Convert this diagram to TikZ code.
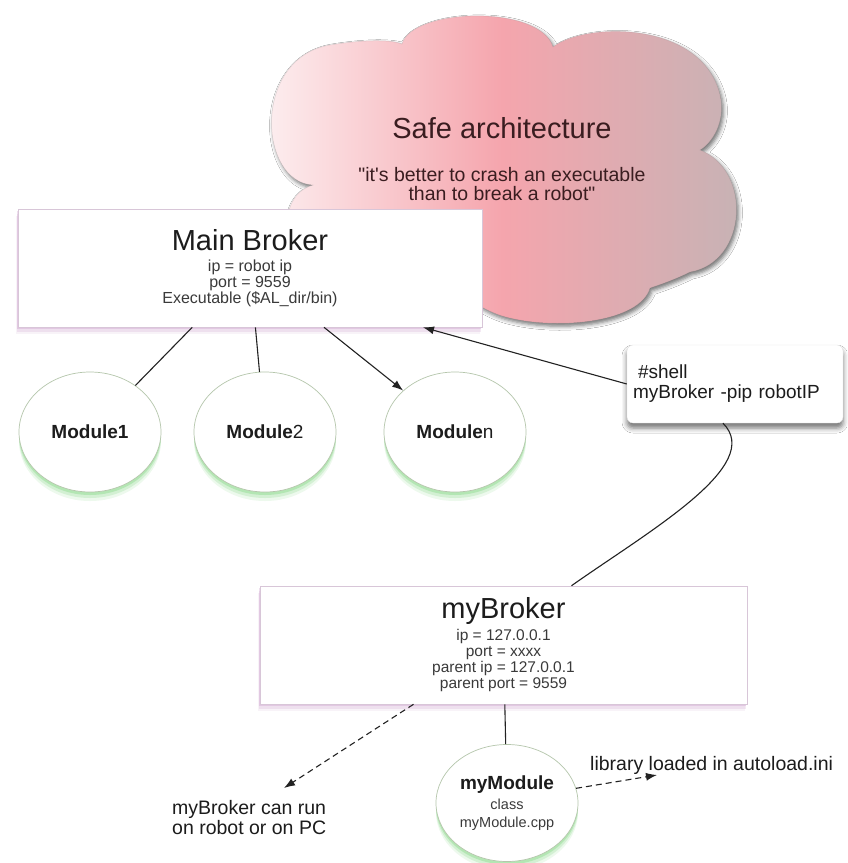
\documentclass[tikz,border=0pt]{standalone}
\usepackage{fontspec}
\setmainfont{Liberation Sans}
% same face without the TeX quote mapping, so " and ' stay straight
\newfontfamily\plainsans{Liberation Sans}
\usetikzlibrary{shapes.geometric,shadows,shadows.blur,arrows.meta,calc}

\definecolor{inkdark}{HTML}{1C1C1C}
\definecolor{inkgrey}{HTML}{3A3A3A}
\definecolor{cloudleft}{HTML}{FDF2F3}
\definecolor{cloudmid}{HTML}{F5A5AD}
\definecolor{cloudright}{HTML}{C5B3B5}
\definecolor{cloudink}{HTML}{3A1D20}
\definecolor{boxedge}{HTML}{D8C6D8}
\definecolor{boxglow}{HTML}{C48DC4}
\definecolor{moduleedge}{HTML}{B5C6AC}
\definecolor{moduleglow}{HTML}{6CD06C}
\definecolor{wire}{HTML}{222222}

\tikzset{
  wire/.style={draw=wire, line width=1.1pt},
  tip/.style={-{Latex[length=11pt,width=8pt]}},
  dashwire/.style={wire, dash pattern=on 6pt off 4pt},
  brokerbox/.style={rectangle, draw=boxedge, line width=0.6pt, fill=white,
    align=center, text=inkgrey, font=\fontsize{16}{16}\selectfont, inner sep=0pt,
    general shadow={fill=boxglow, fill opacity=0.10, shadow yshift=-7pt, shadow xshift=-2pt},
    general shadow={fill=boxglow, fill opacity=0.18, shadow yshift=-4.5pt, shadow xshift=-1.5pt},
    general shadow={fill=boxglow, fill opacity=0.28, shadow yshift=-2pt, shadow xshift=-1pt}},
  modulenode/.style={ellipse, draw=moduleedge, line width=0.7pt, fill=white,
    minimum width=142pt, minimum height=120pt, inner sep=0pt, align=center,
    text=inkdark, font=\fontsize{19}{19}\selectfont,
    general shadow={fill=moduleglow, fill opacity=0.12, shadow yshift=-9pt},
    general shadow={fill=moduleglow, fill opacity=0.20, shadow yshift=-6pt},
    general shadow={fill=moduleglow, fill opacity=0.30, shadow yshift=-3pt}},
  shellbox/.style={rectangle, rounded corners=6pt, draw=black!12, fill=white,
    text width=204pt, inner xsep=6pt, inner ysep=0pt, minimum height=78pt,
    align=left, text=inkdark, font=\fontsize{19}{20}\selectfont,
    blur shadow={shadow xshift=0pt, shadow yshift=-5pt, shadow blur radius=5pt, shadow opacity=55}},
  freelabel/.style={align=left, inner sep=0pt, text=inkdark, font=\fontsize{19.5}{20}\selectfont},
  cloudtext/.style={align=center, inner sep=0pt, text=cloudink}
}

\begin{document}
\begin{tikzpicture}[x=1pt,y=-1pt]
\useasboundingbox (0,0) rectangle (847,863);
\fill[white] (0,0) rectangle (847,863);

% cloud behind the main broker
\path[left color=cloudleft, right color=cloudright, middle color=cloudmid,
      draw=cloudright!70!black, draw opacity=0.25, line width=0.5pt,
      blur shadow={shadow xshift=2pt, shadow yshift=-3pt, shadow blur radius=4pt, shadow opacity=55}]
  (313,185)
  .. controls (258,182) and (252,58) .. (330,45)
  .. controls (360,40) and (390,39) .. (402,44)
  .. controls (412,8) and (540,4) .. (553,47)
  .. controls (585,22) and (702,20) .. (720,95)
  .. controls (726,122) and (712,143) .. (700,150)
  .. controls (752,170) and (748,262) .. (690,272)
  .. controls (676,279) and (662,284) .. (650,288)
  .. controls (640,322) and (560,330) .. (510,318)
  .. controls (492,314) and (480,306) .. (470,300)
  -- (340,292)
  .. controls (285,282) and (268,198) .. (313,185) -- cycle;
\node[cloudtext, font=\fontsize{29}{29}\selectfont] (cloudtitle) at (502,128) {Safe architecture};
\node[cloudtext, font=\plainsans\fontsize{19.5}{19.5}\selectfont] (cloudquote) at (502,184)
  {"it's better to crash an executable\\than to break a robot"};

% brokers and modules
\node[brokerbox, minimum width=464pt, minimum height=118pt] (mainbroker) at (250,268)
  {{\fontsize{29}{29}\selectfont\color{inkdark}Main Broker}\\[5pt]ip = robot ip\\port = 9559\\Executable (\$AL\_dir/bin)};

\node[modulenode] (module1) at (90,432) {\textbf{Module1}};
\node[modulenode] (module2) at (265,432) {\textbf{Module}2};
\node[modulenode] (modulen) at (455,432) {\textbf{Module}n};

\node[shellbox] (shell) at (735,384) {\hspace{5pt}\#shell\\myBroker -pip robotIP};

\node[brokerbox, minimum width=487pt, minimum height=118pt, font=\fontsize{15.5}{16.3}\selectfont] (mybroker) at (503.5,645)
  {{\fontsize{29}{29}\selectfont\color{inkdark}myBroker}\\[3pt]ip = 127.0.0.1\\port = xxxx\\parent ip = 127.0.0.1\\parent port = 9559};

\node[modulenode, minimum height=117pt, font=\fontsize{14.5}{18}\selectfont, text=inkgrey] (mymodule) at (507,803)
  {{\fontsize{19}{19}\selectfont\bfseries\color{inkdark}myModule}\\[2pt]class\\myModule.cpp};

\node[freelabel, anchor=west] (canrun) at (172,818) {myBroker can run\\on robot or on PC};
\node[freelabel, anchor=west] (autoload) at (590,765) {library loaded in autoload.ini};
\coordinate (canruntip) at (284,788);
\coordinate (autoloadtip) at (657,775);

% connectors
\draw[wire] (mainbroker) -- (module1);
\draw[wire] (mainbroker) -- (module2);
\draw[wire, tip] (mainbroker) -- (modulen);
\draw[wire, tip] (shell.west) -- ([xshift=173pt]mainbroker.south);
\draw[wire] ([xshift=-12pt]shell.south) .. controls +(42,42) and +(78,-55) .. ([xshift=68pt]mybroker.north);
\draw[wire] (mybroker) -- (mymodule);
\draw[dashwire, tip] ([xshift=-90pt]mybroker.south) -- (canruntip);
\draw[dashwire, tip] (mymodule.12) -- (autoloadtip);
\end{tikzpicture}
\end{document}
